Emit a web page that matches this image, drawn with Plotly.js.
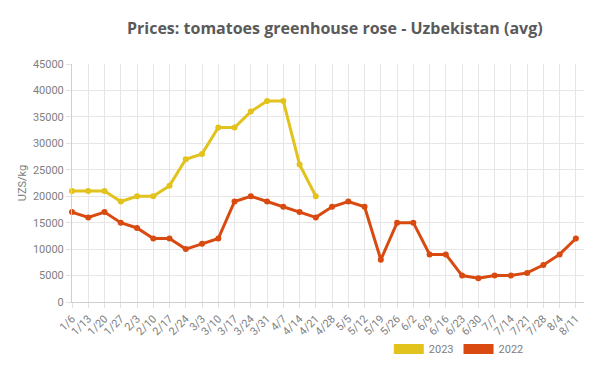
<!DOCTYPE html>
<html>
<head>
<meta charset="utf-8">
<script src="https://cdn.plot.ly/plotly-3.0.1.min.js"></script>
<style>html,body{margin:0;padding:0;background:#fff;}#chart{width:600px;height:390px;}</style>
</head>
<body>
<div id="chart"></div>
<script>
var weeks = ["1/6","1/13","1/20","1/27","2/3","2/10","2/17","2/24","3/3","3/10","3/17","3/24","3/31","4/7","4/14","4/21","4/28","5/5","5/12","5/19","5/26","6/2","6/9","6/16","6/23","6/30","7/7","7/14","7/21","7/28","8/4","8/11","8/18"];
var weeks2023 = weeks.slice(0, 16);
var prices2023 = [21000,21000,21000,19000,20000,20000,22000,27000,28000,33000,33000,36000,38000,38000,26000,20000];
var weeks2022 = weeks.slice(0, 32);
var prices2022 = [17000,16000,17000,15000,14000,12000,12000,10000,11000,12000,19000,20000,19000,18000,17000,16000,18000,19000,18000,8000,15000,15000,9000,9000,5000,4500,5000,5000,5500,7000,9000,12000];
var yTicks = [0,5000,10000,15000,20000,25000,30000,35000,40000,45000];

var cYellow = "#e2c21c";
var cRed = "#d94a10";

var traces = [
  {x: weeks2022, y: prices2022, type: "scatter", mode: "lines+markers", name: "2022",
   line: {color: cRed, width: 3}, marker: {color: cRed, size: 6}, showlegend: false, cliponaxis: false},
  {x: weeks2023, y: prices2023, type: "scatter", mode: "lines+markers", name: "2023",
   line: {color: cYellow, width: 3}, marker: {color: cYellow, size: 6}, showlegend: false, cliponaxis: false},
  {x: [null], y: [null], type: "scatter", mode: "lines", name: "2023", line: {color: cYellow, width: 12}, showlegend: true},
  {x: [null], y: [null], type: "scatter", mode: "lines", name: "2022", line: {color: cRed, width: 12}, showlegend: true}
];

var layout = {
  width: 600, height: 390,
  margin: {l: 72, r: 16, t: 64, b: 88},
  paper_bgcolor: "#fff", plot_bgcolor: "#fff",
  font: {family: "Roboto, 'Open Sans', sans-serif", color: "#777", size: 11},
  title: {text: "Prices: tomatoes greenhouse rose - Uzbekistan (avg)",
          font: {family: "'Open Sans', 'Noto Sans', sans-serif", size: 16, color: "#5a5a5a", weight: "bold"},
          x: 0.558, xref: "container", xanchor: "center", y: 0.928, yref: "container", yanchor: "middle"},
  xaxis: {type: "category", categoryorder: "array", categoryarray: weeks,
          range: [0, 31.5], tickangle: -45, showgrid: true, gridcolor: "#e6e6e6",
          showline: true, linecolor: "#cfcfcf", linewidth: 1, ticks: "outside", ticklen: 5, tickcolor: "#e0e0e0",
          tickfont: {size: 11, color: "#808080"}, zeroline: false, fixedrange: true},
  yaxis: {range: [0, 45000], tickvals: yTicks, ticktext: yTicks.map(String),
          showgrid: true, gridcolor: "#e6e6e6", showline: true, linecolor: "#cfcfcf", linewidth: 1,
          ticks: "outside", ticklen: 5, tickcolor: "#e0e0e0", zeroline: false,
          tickfont: {size: 11, color: "#808080"},
          title: {text: "UZS/kg", font: {size: 11, color: "#808080"}, standoff: 4}},
  showlegend: true,
  legend: {orientation: "h", x: 0.648, xref: "container", y: 0.105, yref: "container", yanchor: "middle", xanchor: "left",
           font: {size: 11, color: "#808080"}, itemwidth: 30, bgcolor: "rgba(0,0,0,0)"}
};

Plotly.newPlot("chart", traces, layout, {displayModeBar: false, staticPlot: true});
</script>
</body>
</html>
